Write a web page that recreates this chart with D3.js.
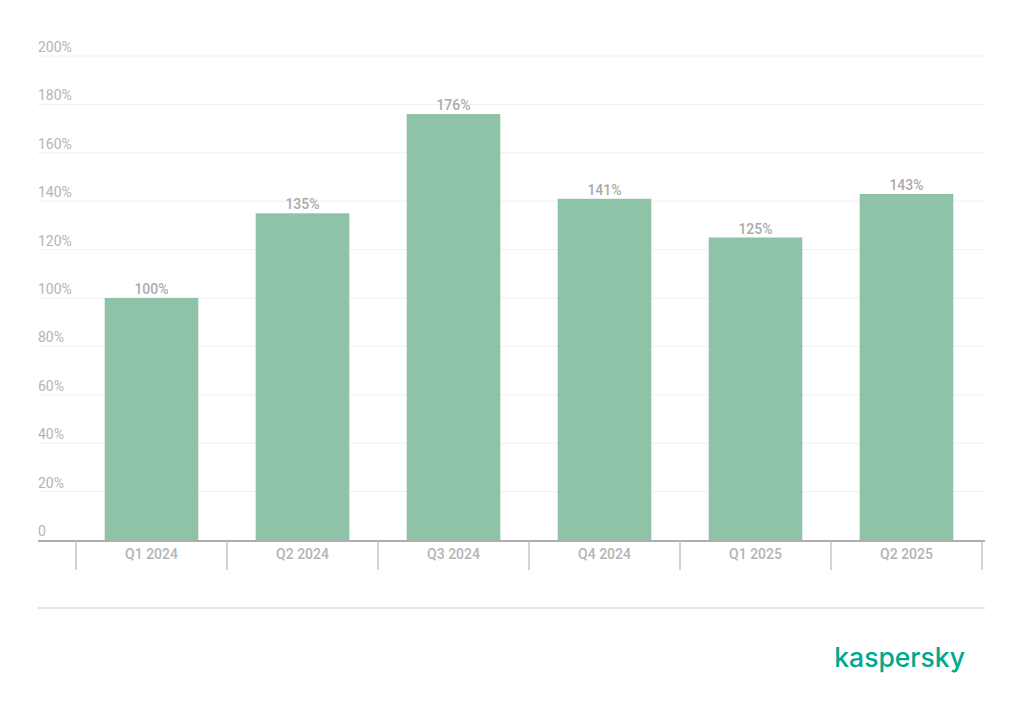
<!DOCTYPE html>
<html>
<head>
<meta charset="utf-8">
<script src="https://cdn.jsdelivr.net/npm/d3@7"></script>
<style>
  body { margin: 0; background: #fff; }
  text { font-family: Roboto, "Noto Sans", sans-serif; }
</style>
</head>
<body>
<div id="chart"></div>
<script>
// Chart data
var quarters = ['Q1 2024', 'Q2 2024', 'Q3 2024', 'Q4 2024', 'Q1 2025', 'Q2 2025'];
var values = [100, 135, 176, 141, 125, 143];
var yTicks = [0, 20, 40, 60, 80, 100, 120, 140, 160, 180, 200];

var w = 1024;
var h = 713;

var svg = d3.select('#chart')
  .append('svg')
  .attr('width', w)
  .attr('height', h);

// Scales
var xScale = d3.scaleBand()
  .domain(quarters)
  .range([76, 982])
  .paddingInner(0.38)
  .paddingOuter(0.19);

var yScale = d3.scaleLinear()
  .domain([0, 200])
  .range([540, 56]);

// Gridlines + y labels
var grid = svg.append('g');
grid.selectAll('line')
  .data(yTicks.slice(1))
  .enter()
  .append('line')
  .attr('x1', 38)
  .attr('x2', 985)
  .attr('y1', d => yScale(d))
  .attr('y2', d => yScale(d))
  .attr('stroke', '#edf1ef')
  .attr('stroke-width', 1);

grid.selectAll('text')
  .data(yTicks)
  .enter()
  .append('text')
  .attr('x', 38)
  .attr('y', d => yScale(d) - 4)
  .attr('font-size', 14)
  .attr('fill', '#b4b4b4')
  .text(d => d === 0 ? '0' : d + '%');

// Bars
svg.append('g')
  .selectAll('rect')
  .data(values)
  .enter()
  .append('rect')
  .attr('x', (d, i) => xScale(quarters[i]))
  .attr('width', xScale.bandwidth())
  .attr('y', d => yScale(d))
  .attr('height', d => yScale(0) - yScale(d))
  .attr('fill', '#8ec3a7');

// Value labels
svg.append('g')
  .selectAll('text')
  .data(values)
  .enter()
  .append('text')
  .attr('x', (d, i) => xScale(quarters[i]) + xScale.bandwidth() / 2)
  .attr('y', d => yScale(d) - 4)
  .attr('text-anchor', 'middle')
  .attr('font-size', 14)
  .attr('font-weight', 500)
  .attr('fill', '#ababab')
  .text(d => d + '%');

// X axis: baseline, separators, labels
var xAxis = d3.axisBottom(xScale).tickSize(0).tickPadding(8);
var gx = svg.append('g')
  .attr('transform', 'translate(0, 541)')
  .call(xAxis);
gx.select('.domain').remove();
gx.selectAll('text')
  .attr('font-size', 14)
  .attr('font-weight', 500)
  .attr('fill', '#b4b4b4')
  .style('font-family', 'Roboto, sans-serif');

svg.append('line')
  .attr('x1', 38)
  .attr('x2', 985)
  .attr('y1', 541)
  .attr('y2', 541)
  .attr('stroke', '#adadad')
  .attr('stroke-width', 2);

var seps = quarters.map(q => xScale(q) - xScale.step() * xScale.paddingInner() / 2);
seps.push(xScale(quarters[quarters.length - 1]) + xScale.bandwidth() + xScale.step() * xScale.paddingInner() / 2);
svg.append('g')
  .selectAll('line')
  .data(seps)
  .enter()
  .append('line')
  .attr('x1', d => d)
  .attr('x2', d => d)
  .attr('y1', 541)
  .attr('y2', 570)
  .attr('stroke', '#c4c4c4')
  .attr('stroke-width', 1.5);

// Footer rule
svg.append('line')
  .attr('x1', 38)
  .attr('x2', 985)
  .attr('y1', 608)
  .attr('y2', 608)
  .attr('stroke', '#dcdcdc')
  .attr('stroke-width', 1.5);

// Logo
svg.append('text')
  .attr('x', 965)
  .attr('y', 667)
  .attr('text-anchor', 'end')
  .attr('font-size', 26.5)
  .attr('font-weight', 500)
  .attr('fill', '#00a88e')
  .style('font-family', 'Inter, "Noto Sans", sans-serif')
  .text('kaspersky');
</script>
</body>
</html>
